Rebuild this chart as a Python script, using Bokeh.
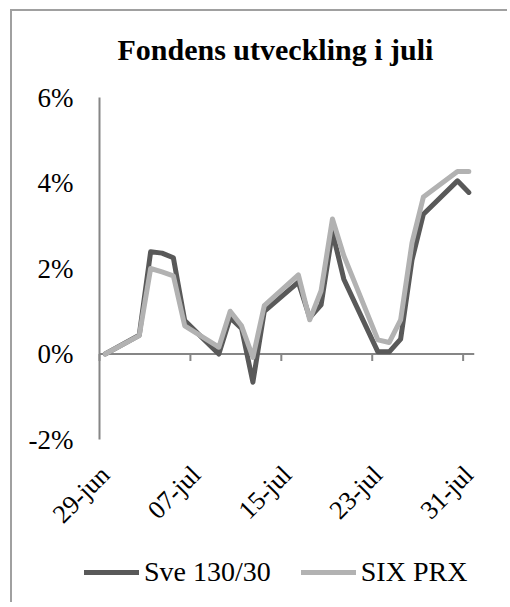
import math
import pandas as pd
from bokeh.plotting import figure
from bokeh.models import Range1d, Legend, LegendItem
from bokeh.core.properties import value
from bokeh.embed import file_html
from bokeh.resources import INLINE

# ---- data ----
dates = ["2010-06-29", "2010-07-02", "2010-07-03", "2010-07-04", "2010-07-05",
         "2010-07-06", "2010-07-09", "2010-07-10", "2010-07-11", "2010-07-12",
         "2010-07-13", "2010-07-16", "2010-07-17", "2010-07-18", "2010-07-19",
         "2010-07-20", "2010-07-23", "2010-07-24", "2010-07-25", "2010-07-26",
         "2010-07-27", "2010-07-30", "2010-07-31"]
sve = [0.00, 0.44, 2.39, 2.36, 2.25, 0.78, 0.00, 0.85, 0.60, -0.66, 1.00, 1.68,
       0.85, 1.15, 2.85, 1.75, 0.05, 0.05, 0.35, 2.20, 3.27, 4.05, 3.78]
six = [0.00, 0.43, 2.00, 1.92, 1.83, 0.66, 0.16, 1.00, 0.66, -0.08, 1.13, 1.85,
       0.80, 1.48, 3.16, 2.30, 0.33, 0.27, 0.80, 2.60, 3.67, 4.27, 4.27]
series_names = ["Sve 130/30", "SIX PRX"]
tick_dates = ["2010-06-29", "2010-07-07", "2010-07-15", "2010-07-23", "2010-07-31"]
tick_labels = ["29-jun", "07-jul", "15-jul", "23-jul", "31-jul"]
y_ticks = [-2, 0, 2, 4, 6]
y_tick_labels = ["-2%", "0%", "2%", "4%", "6%"]
title_text = "Fondens utveckling i juli"

start = pd.Timestamp(dates[0])
x = [(pd.Timestamp(d) - start).days for d in dates]
xt = [(pd.Timestamp(d) - start).days for d in tick_dates]
n_days = xt[-1]
x_lo_axis, x_hi_axis = -0.5, n_days + 0.5          # Excel "between tick marks" slots
tick_marks = [v - 0.5 for v in xt]

# ---- layout (pixels) ----
W, H = 497, 593
MB_LEFT, MB_RIGHT, MB_TOP = 10, 35, 70
PLOT_LEFT_OFFSET = 77      # y axis sits this far right of the frame's left edge
PLOT_TOP_OFFSET = 16       # plot area top sits this far below the frame's top edge
PLOT_W, PLOT_H = 375, 342  # size of the Excel plot area
frame_h = H - MB_TOP
px_per_day = PLOT_W / (x_hi_axis - x_lo_axis)
px_per_pct = PLOT_H / (y_ticks[-1] - y_ticks[0])
x_lo = x_lo_axis - PLOT_LEFT_OFFSET / px_per_day
y_hi = y_ticks[-1] + PLOT_TOP_OFFSET / px_per_pct
y_lo = y_hi - frame_h / px_per_pct
tick_len = 7 / px_per_pct
label_y = y_ticks[0] - 31 / px_per_pct
ylabel_x = x_lo_axis - 26 / px_per_day

FONT = "Liberation Serif"
AXIS_COL = "#868686"
DARK = "#595959"
LIGHT = "#b2b2b2"

p = figure(width=W, height=H,
           x_range=Range1d(x_lo, x_hi_axis), y_range=Range1d(y_lo, y_hi),
           output_backend="svg", toolbar_location=None,
           min_border_left=MB_LEFT, min_border_right=MB_RIGHT, min_border_top=MB_TOP,
           min_border_bottom=0,
           x_axis_location=None, y_axis_location=None,
           styles={"border-left": "2px solid #a0a0a0", "border-top": "2px solid #a0a0a0",
                   "margin-left": "10px", "margin-top": "9px"})
p.grid.visible = False
p.outline_line_color = None
p.background_fill_color = "white"
p.border_fill_color = "white"

# title
p.title.text = title_text
p.title.text_font = FONT
p.title.text_font_style = "bold"
p.title.text_font_size = "30px"
p.title.align = "left"
p.title.offset = 95
p.title.standoff = 31
p.title.text_color = "black"

# vertical axis line and its labels
p.segment(x0=[x_lo_axis], y0=[y_ticks[0]], x1=[x_lo_axis], y1=[y_ticks[-1]],
          line_color=AXIS_COL, line_width=2)
p.text(x=[ylabel_x] * len(y_ticks), y=y_ticks, text=y_tick_labels,
       text_align="right", text_baseline="middle", text_font=value(FONT),
       text_font_size="27px", text_color="black")

# horizontal axis line at 0 with its tick marks
p.segment(x0=[x_lo_axis], y0=[0], x1=[x_hi_axis], y1=[0], line_color=AXIS_COL, line_width=2)
p.segment(x0=tick_marks, y0=[0] * len(tick_marks), x1=tick_marks,
          y1=[-tick_len] * len(tick_marks), line_color=AXIS_COL, line_width=2)

# category (date) labels, rotated, below the plot area
p.text(x=xt, y=[label_y] * len(xt), text=tick_labels, angle=math.pi / 4,
       text_align="right", text_baseline="middle", text_font=value(FONT),
       text_font_size="26px", text_color="black")

r1 = p.line(x, sve, line_color=DARK, line_width=5, line_join="round", line_cap="round")
r2 = p.line(x, six, line_color=LIGHT, line_width=5, line_join="round", line_cap="round")

legend = Legend(items=[LegendItem(label=series_names[0], renderers=[r1]),
                       LegendItem(label=series_names[1], renderers=[r2])],
                orientation="horizontal", location=(PLOT_LEFT_OFFSET - 15, 16))
legend.label_text_font = FONT
legend.label_text_font_size = "28px"
legend.label_text_color = "black"
legend.glyph_width = 55
legend.label_standoff = 5
legend.spacing = 30
legend.border_line_color = None
legend.background_fill_alpha = 0
legend.padding = 0
legend.margin = 0
p.add_layout(legend, "center")

open("out.html", "w").write(file_html(p, INLINE))
